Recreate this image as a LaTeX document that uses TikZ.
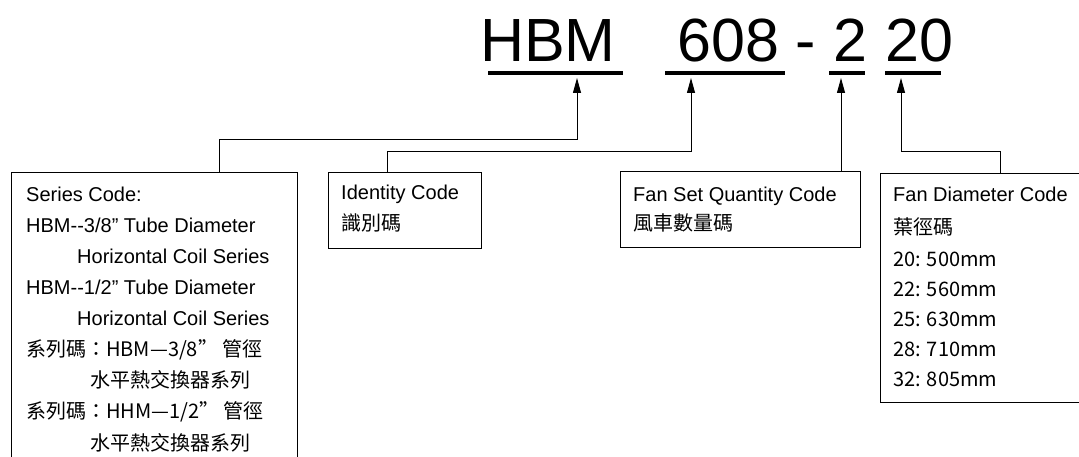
\documentclass[tikz,border=0pt]{standalone}
\usepackage{fontspec}
\setmainfont{Liberation Sans}
\newfontfamily\cjk{Noto Sans CJK TC}
\usetikzlibrary{arrows.meta,positioning}
\tikzset{
    %Define standard arrow tip
    >={Triangle[length=15bp,width=8bp]},
    %Define style for boxes
    codebox/.style={
           rectangle,
           draw=black,
           line width=1bp,
           anchor=north west,
           inner sep=0pt},
    %Define style for text lines
    eng/.style={
           anchor=base west,
           inner sep=0pt,
           font=\fontsize{20bp}{24bp}\selectfont},
    zh/.style={
           anchor=base west,
           inner sep=0pt,
           font=\cjk\fontsize{20bp}{24bp}\selectfont},
    %Define style for the model code
    codetext/.style={
           anchor=base west,
           inner sep=0pt,
           font=\fontsize{61bp}{70bp}\selectfont},
    bar/.style={line width=3.5bp},
    % Define arrow style
    pil/.style={
           ->,
           line width=1bp}
}

\begin{document}
\begin{tikzpicture}[x=1bp,y=-1bp]
  \useasboundingbox (0,0) rectangle (1079,457);
  % model code
  \node[codetext] (hbm) at (480,62) {HBM};
  \node[codetext] (num) at (677,62) {608};
  \node[codetext] (dash) at (795,62) {-};
  \node[codetext] (qty) at (833,62) {2};
  \node[codetext] (dia) at (885,62) {20};
  \draw[bar] (488,73) -- (623,73);
  \draw[bar] (665,73) -- (785,73);
  \draw[bar] (829,73) -- (865,73);
  \draw[bar] (885,73) -- (941,73);
  \coordinate (hbm tip) at (577,78);
  \coordinate (num tip) at (691,78);
  \coordinate (qty tip) at (841,78);
  \coordinate (dia tip) at (901,78);
  % boxes
  \node[codebox,minimum width=286bp,minimum height=320bp] (series) at (11,172) {};
  \node[codebox,minimum width=153bp,minimum height=76bp] (ident) at (328,172) {};
  \node[codebox,minimum width=240bp,minimum height=76bp] (fanset) at (620,171) {};
  \node[codebox,minimum width=240bp,minimum height=229bp] (fandia) at (880,173) {};
  \coordinate (series foot) at (219,172);
  \coordinate (ident foot) at (387,172);
  \coordinate (fanset foot) at (841,171);
  \coordinate (fandia foot) at (1000,173);
  % series code
  \node[eng] (s1) at (26,202) {Series Code:};
  \node[eng] (s2) at (26,233) {HBM-{}-3/8” Tube Diameter};
  \node[eng] (s3) at (77,264) {Horizontal Coil Series};
  \node[eng] (s4) at (26,295) {HBM-{}-1/2” Tube Diameter};
  \node[eng] (s5) at (77,326) {Horizontal Coil Series};
  \node[zh] (s6) at (26,357) {系列碼：HBM—3/8” 管徑};
  \node[zh] (s7) at (90,388) {水平熱交換器系列};
  \node[zh] (s8) at (26,419) {系列碼：HHM—1/2” 管徑};
  \node[zh] (s9) at (90,450) {水平熱交換器系列};
  % identity code
  \node[eng] (i1) at (341,200) {Identity Code};
  \node[zh] (i2) at (341,231) {識別碼};
  % fan set quantity code
  \node[eng] (q1) at (633,202) {Fan Set Quantity Code};
  \node[zh] (q2) at (633,231) {風車數量碼};
  % fan diameter code
  \node[eng] (d1) at (893,202) {Fan Diameter Code};
  \node[zh] (d2) at (893,235) {葉徑碼};
  \node[zh] (d3) at (893,267) {20: 500mm};
  \node[zh] (d4) at (893,297) {22: 560mm};
  \node[zh] (d5) at (893,327) {25: 630mm};
  \node[zh] (d6) at (893,357) {28: 710mm};
  \node[zh] (d7) at (893,387) {32: 805mm};
  % connectors
  \draw[pil] (series foot) -- ++(0,-32) -| (hbm tip);
  \draw[pil] (ident foot) -- ++(0,-20) -| (num tip);
  \draw[pil] (fanset foot) -- (qty tip);
  \draw[pil] (fandia foot) -- ++(0,-21) -| (dia tip);
\end{tikzpicture}
\end{document}
